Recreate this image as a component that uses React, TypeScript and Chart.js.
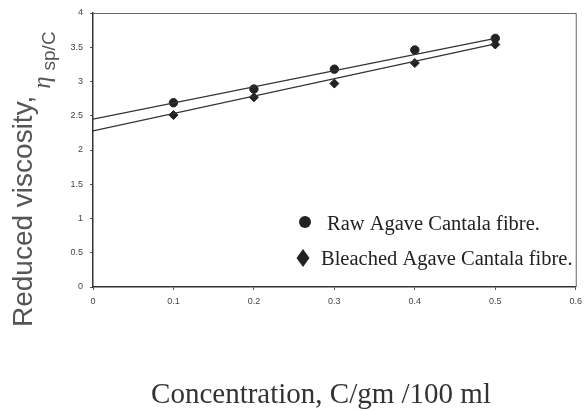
import React, { useEffect, useRef } from "react";
import { Chart, registerables } from "chart.js";

Chart.register(...registerables);

const concentrations = [0.1, 0.2, 0.3, 0.4, 0.5];
const rawValues = [2.69, 2.89, 3.18, 3.46, 3.63];
const bleachedValues = [2.51, 2.77, 2.97, 3.27, 3.54];
const rawFitX = [0, 0.5];
const rawFitY = [2.45, 3.63];
const bleachedFitX = [0, 0.5];
const bleachedFitY = [2.28, 3.55];
const legendLabels = ["Raw Agave Cantala fibre.", "Bleached Agave Cantala fibre."];
const xTitle = "Concentration, C/gm /100 ml";
const yTitleMain = "Reduced viscosity, ";
const yTitleSymbol = "η";
const yTitleSub = "sp/C";

const pts = (xs: number[], ys: number[]) => xs.map((x, i) => ({ x, y: ys[i] }));

const decorPlugin = {
  id: "decor",
  afterDraw(chart: any) {
    const { ctx, chartArea } = chart;
    ctx.save();
    // frame top/right
    ctx.strokeStyle = "#666";
    ctx.lineWidth = 1;
    ctx.beginPath();
    ctx.moveTo(chartArea.left, chartArea.top + 0.5);
    ctx.lineTo(chartArea.right + 0.5, chartArea.top + 0.5);
    ctx.lineTo(chartArea.right + 0.5, chartArea.bottom);
    ctx.stroke();

    // legend
    ctx.fillStyle = "#222";
    ctx.beginPath();
    ctx.arc(305, 222, 6, 0, Math.PI * 2);
    ctx.fill();
    ctx.beginPath();
    ctx.moveTo(303, 249);
    ctx.lineTo(309.5, 258);
    ctx.lineTo(303, 267);
    ctx.lineTo(296.5, 258);
    ctx.closePath();
    ctx.fill();
    ctx.font = "20.5px 'Liberation Serif'";
    ctx.textBaseline = "alphabetic";
    ctx.textAlign = "left";
    ctx.fillText(legendLabels[0], 327, 230);
    ctx.fillText(legendLabels[1], 321, 265);

    // x title
    ctx.fillStyle = "#333";
    ctx.font = "29px 'Liberation Serif'";
    ctx.textAlign = "center";
    ctx.fillText(xTitle, 321, 403);

    // y title
    ctx.translate(32, 327);
    ctx.rotate(-Math.PI / 2);
    ctx.fillStyle = "#555";
    ctx.textAlign = "left";
    ctx.font = "28px 'Liberation Sans'";
    ctx.fillText(yTitleMain, 0, 0);
    let w = ctx.measureText(yTitleMain).width;
    ctx.font = "italic 25px 'Liberation Serif'";
    ctx.fillText(yTitleSymbol, w - 1, 18);
    w += -1 + ctx.measureText(yTitleSymbol).width;
    ctx.font = "19px 'Liberation Sans'";
    ctx.fillText(yTitleSub, w + 6, 23);
    ctx.restore();
  },
};

export default function App() {
  const ref = useRef<HTMLCanvasElement>(null);
  useEffect(() => {
    const chart = new Chart(ref.current!, {
      type: "scatter",
      data: {
        datasets: [
          {
            data: pts(rawFitX, rawFitY),
            showLine: true,
            borderColor: "#333",
            borderWidth: 1.2,
            pointRadius: 0,
          },
          {
            data: pts(bleachedFitX, bleachedFitY),
            showLine: true,
            borderColor: "#333",
            borderWidth: 1.2,
            pointRadius: 0,
          },
          {
            label: legendLabels[0],
            data: pts(concentrations, rawValues),
            pointStyle: "circle",
            pointRadius: 4.2,
            backgroundColor: "#222",
            borderColor: "#222",
          },
          {
            label: legendLabels[1],
            data: pts(concentrations, bleachedValues),
            pointStyle: "rectRot",
            pointRadius: 4.5,
            backgroundColor: "#222",
            borderColor: "#222",
          },
        ],
      },
      options: {
        animation: false,
        responsive: false,
        events: [],
        layout: { padding: { left: 0, top: 13, right: 10, bottom: 0 } },
        plugins: { legend: { display: false }, tooltip: { enabled: false } },
        scales: {
          x: {
            type: "linear",
            min: 0,
            max: 0.6,
            ticks: {
              stepSize: 0.1,
              color: "#444",
              font: { size: 9, family: "'Liberation Sans'" },
              padding: 6,
              callback: (v: any) => String(Math.round(Number(v) * 10) / 10),
            },
            grid: { drawOnChartArea: false, drawTicks: true, tickLength: 3, color: "#555" },
            border: { display: true, color: "#333", width: 1.5 },
            afterFit: (s: any) => {
              s.height = 124;
            },
          },
          y: {
            type: "linear",
            min: 0,
            max: 4,
            ticks: {
              stepSize: 0.5,
              color: "#444",
              font: { size: 9, family: "'Liberation Sans'" },
              padding: 7,
              callback: (v: any) => String(Math.round(Number(v) * 10) / 10),
            },
            grid: { drawOnChartArea: false, drawTicks: true, tickLength: 3, color: "#555" },
            border: { display: true, color: "#333", width: 1.5 },
            afterFit: (s: any) => {
              s.width = 93;
            },
          },
        },
      },
      plugins: [decorPlugin],
    });
    return () => chart.destroy();
  }, []);
  return (
    <div style={{ position: "absolute", left: 0, top: 0, width: 588, height: 411, background: "#fff" }}>
      <canvas ref={ref} width={588} height={411} style={{ display: "block" }} />
    </div>
  );
}
